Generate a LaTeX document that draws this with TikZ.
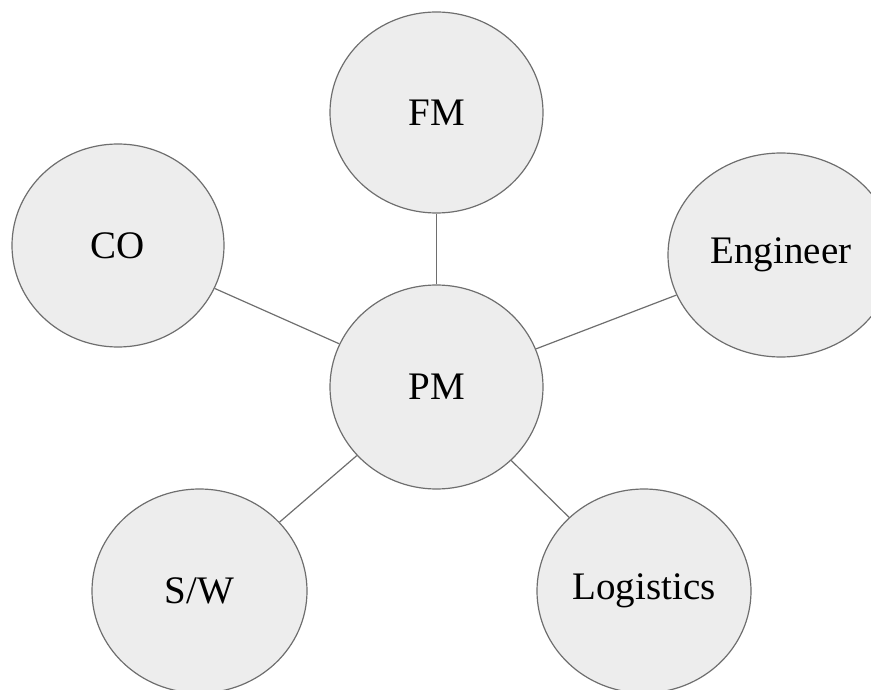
\documentclass[tikz,border=0pt]{standalone}
\usepackage{fontspec}
\setmainfont{Liberation Serif}
\usetikzlibrary{shapes.geometric}
\definecolor{bub}{HTML}{EDEDED}
\definecolor{edge}{HTML}{6E6E6E}
\tikzset{
  bubble/.style={ellipse, draw=edge, fill=bub, line width=1.2pt, inner sep=0pt,
    font=\fontsize{39}{44}\selectfont, text=black},
  link/.style={draw=edge, line width=1.2pt}
}
\begin{document}
\begin{tikzpicture}[x=1pt,y=-1pt]
\clip (0,0) rectangle (871,690);
\useasboundingbox (0,0) rectangle (871,690);
\node[bubble, minimum width=213pt, minimum height=201pt] (fm) at (436.5,112.5) {FM};
\node[bubble, minimum width=212pt, minimum height=203pt] (co) at (118,245.5) {CO};
\node[bubble, minimum width=226pt, minimum height=204pt] (eng) at (781,255) {Engineer};
\node[bubble, minimum width=213pt, minimum height=204pt] (pm) at (436.5,387) {PM};
\node[bubble, minimum width=215pt, minimum height=204pt] (sw) at (199.5,591) {S/W};
\node[bubble, minimum width=214pt, minimum height=204pt] (log) at (644,591) {Logistics};
\draw[link] (pm) -- (fm);
\draw[link] (pm) -- (co);
\draw[link] (pm) -- (eng);
\draw[link] (pm) -- (sw);
\draw[link] (pm) -- (log);
\end{tikzpicture}
\end{document}
